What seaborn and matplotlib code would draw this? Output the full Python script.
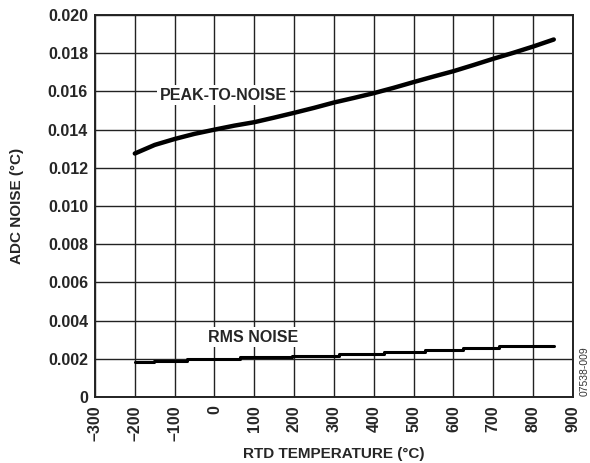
import matplotlib
matplotlib.use("Agg")
import matplotlib.pyplot as plt
import seaborn as sns
import pandas as pd

# Data
peak_temp = [-200, -150, -100, -50, 0, 50, 100, 150, 200, 250, 300, 350, 400, 450,
             500, 550, 600, 650, 700, 750, 800, 852]
peak_noise = [0.01275, 0.01320, 0.01351, 0.01378, 0.01400, 0.01421, 0.01439, 0.01463,
              0.01488, 0.01514, 0.01542, 0.01566, 0.01591, 0.01619, 0.01649, 0.01678,
              0.01706, 0.01738, 0.01771, 0.01802, 0.01835, 0.01872]

rms_temp = [-200, -152, -70, 64, 194, 313, 425, 529, 625, 715, 852]
rms_noise = [0.00183, 0.00191, 0.00200, 0.00209, 0.00214, 0.00226, 0.00237, 0.00247,
             0.00256, 0.00268, 0.00268]

x_ticks = [-300, -200, -100, 0, 100, 200, 300, 400, 500, 600, 700, 800, 900]
y_ticks = [0, 0.002, 0.004, 0.006, 0.008, 0.010, 0.012, 0.014, 0.016, 0.018, 0.020]
x_labels = ["\u2013300", "\u2013200", "\u2013100", "0", "100", "200", "300", "400",
            "500", "600", "700", "800", "900"]
y_labels = ["0", "0.002", "0.004", "0.006", "0.008", "0.010", "0.012", "0.014",
            "0.016", "0.018", "0.020"]

sns.set_style("white")
plt.rcParams["font.family"] = ["Liberation Sans", "DejaVu Sans"]
plt.rcParams["font.weight"] = "bold"

FS = 11.5

fig = plt.figure(figsize=(5.9, 4.63), dpi=100)
ax = fig.add_axes([0.161, 0.1425, 0.81, 0.825])

peak_df = pd.DataFrame({"t": peak_temp, "n": peak_noise})
rms_df = pd.DataFrame({"t": rms_temp, "n": rms_noise})

sns.lineplot(data=peak_df, x="t", y="n", ax=ax, color="black", linewidth=3.2,
             solid_capstyle="round", zorder=4)
sns.lineplot(data=rms_df, x="t", y="n", ax=ax, color="black", linewidth=2.2,
             drawstyle="steps-post", zorder=4)

ax.set_xlim(-300, 900)
ax.set_ylim(0, 0.020)
ax.set_xticks(x_ticks)
ax.set_xticklabels(x_labels, rotation=90, fontsize=FS, fontweight="bold")
ax.set_yticks(y_ticks)
ax.set_yticklabels(y_labels, fontsize=FS, fontweight="bold")
ax.tick_params(axis="y", length=0, pad=5)
ax.tick_params(axis="x", length=0, pad=6)

ax.grid(True, color="#222222", linewidth=1.0)
ax.set_axisbelow(True)
for s in ax.spines.values():
    s.set_color("#222222")
    s.set_linewidth(1.4)

ax.set_xlabel("RTD TEMPERATURE (\u00b0C)", fontsize=11, fontweight="bold", va="center")
ax.xaxis.set_label_coords(0.5, -0.148)
ax.set_ylabel("ADC NOISE (\u00b0C)", fontsize=11, fontweight="bold", va="center")
ax.yaxis.set_label_coords(-0.163, 0.5)

ax.text(22, 0.0158, "PEAK-TO-NOISE", ha="center", va="center", fontsize=FS,
        fontweight="bold", zorder=5,
        bbox=dict(facecolor="white", edgecolor="none", pad=2))
ax.text(97, 0.00314, "RMS NOISE", ha="center", va="center", fontsize=FS,
        fontweight="bold", zorder=5,
        bbox=dict(facecolor="white", edgecolor="none", pad=2))

fig.text(0.999, 0.198, "07538-009", rotation=90, ha="right", va="center",
         fontsize=7.5, fontweight="normal", color="#333333")

fig.savefig("out.png", dpi=100)
